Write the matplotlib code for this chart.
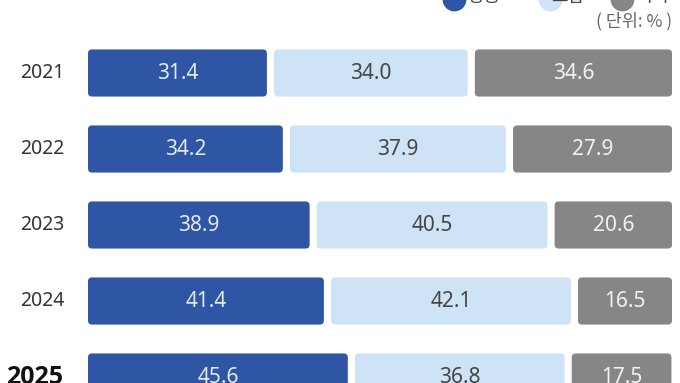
import matplotlib.pyplot as plt
from matplotlib.patches import FancyBboxPatch

plt.rcParams['font.family'] = ['Noto Sans CJK KR', 'DejaVu Sans']

# Du lieu
years = ['2021', '2022', '2023', '2024', '2025']
up = [31.4, 34.2, 38.9, 41.4, 45.6]
flat = [34.0, 37.9, 40.5, 42.1, 36.8]
down = [34.6, 27.9, 20.6, 16.5, 17.5]
labels = ['상승', '보합', '하락']
unit = '( 단위: % )'

colors = ['#2f55a5', '#cfe3f6', '#848688']
text_colors = ['#e3e9f5', '#454545', '#f2f2f2']

gap = 1.25
h = 0.62

fig = plt.figure(figsize=(6.8, 3.83), dpi=100)
ax = fig.add_axes([88 / 680, 0, 584 / 680, 1])
ax.set_xlim(0, 100 + 2 * gap)
ax.set_ylim((383 - 73) / 76, -73 / 76)
ax.axis('off')

# ty le pixel / don vi
sx = 584 / (100 + 2 * gap)
sy = 76
asp = sx / sy

for i, y in enumerate(years):
    left = 0
    for k, v in enumerate([up[i], flat[i], down[i]]):
        box = FancyBboxPatch((left, i - h / 2), v, h,
                             boxstyle='round,pad=0,rounding_size=0.7',
                             mutation_aspect=asp,
                             fc=colors[k], ec='none')
        ax.add_patch(box)
        ax.text(left + v / 2, i + 0.01, f'{v:.1f}', ha='center', va='center',
                fontsize=15, color=text_colors[k], family=['Noto Sans', 'DejaVu Sans'])
        left += v + gap
    if y == '2025':
        ax.text(-53 / sx, i, y, ha='center', va='center', fontsize=18,
                fontweight='bold', color='#111111', clip_on=False,
                family=['Open Sans', 'DejaVu Sans'])
    else:
        ax.text(-46 / sx, i, y, ha='center', va='center', fontsize=14,
                color='#333333', clip_on=False, family=['Noto Sans', 'DejaVu Sans'])

# Chu thich (bi cat o tren)
lx = [454, 550, 622]
tx = [484, 568, 653]
for k in range(3):
    ax.scatter((lx[k] - 88) / sx, (-1 - 73) / sy, s=260, color=colors[k],
               clip_on=False)
    ax.text((tx[k] - 88) / sx, (-3 - 73) / sy, labels[k], ha='center',
            va='center', fontsize=13, color='#444444', clip_on=False)

ax.text(100 + 2 * gap, (21 - 73) / sy, unit, ha='right', va='center',
        fontsize=12.5, color='#666666')

fig.savefig('out.png', dpi=100)
